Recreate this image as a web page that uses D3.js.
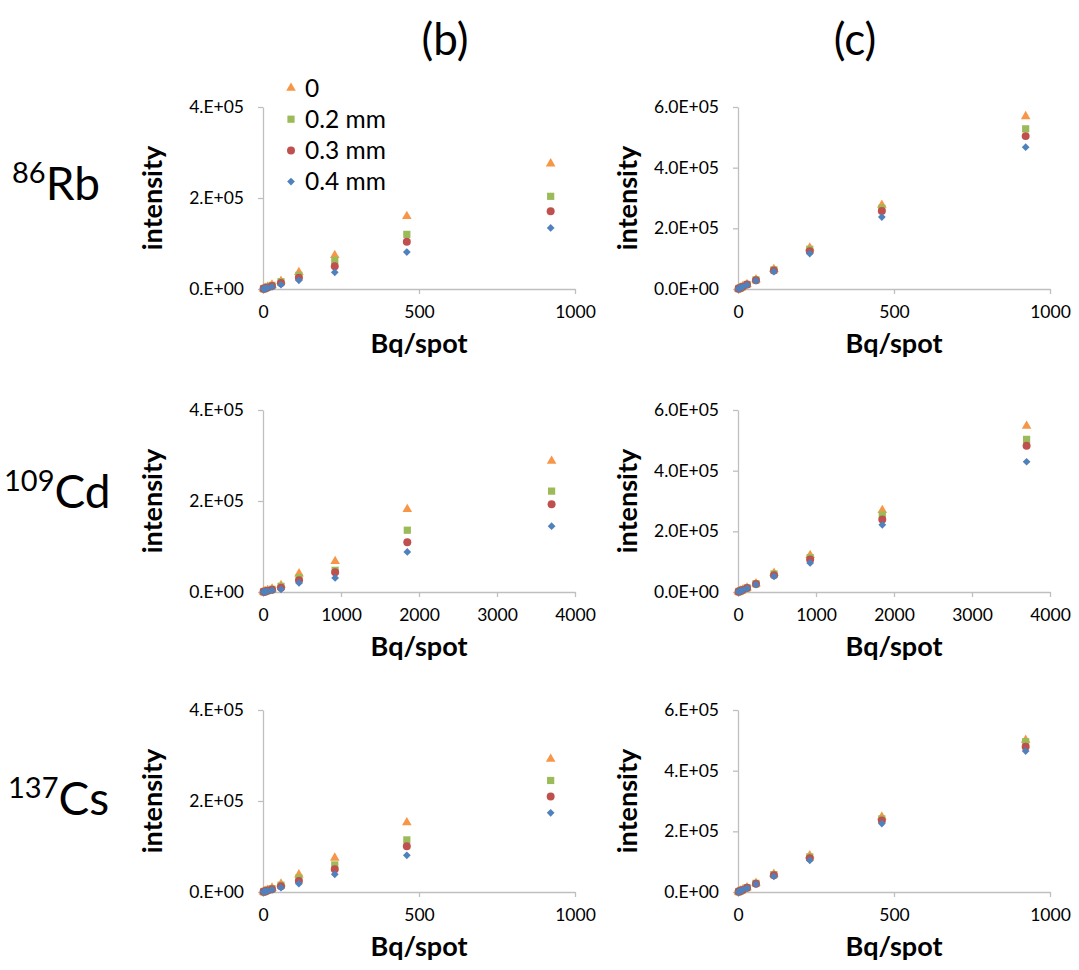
<!DOCTYPE html>
<html>
<head>
<meta charset="utf-8">
<script src="https://cdn.jsdelivr.net/npm/d3@7"></script>
<style>
  body { margin: 0; background: #fff; }
  svg { display: block; font-family: "Lato", sans-serif; }
</style>
</head>
<body>
<div id="chart"></div>
<script>
// series names (legend)
var seriesNames = ["0", "0.2 mm", "0.3 mm", "0.4 mm"];

// x values (Bq/spot)
var xRbCs = [1.8, 3.6, 7.2, 14.4, 28.8, 57.6, 115, 230, 461, 922];
var xCd = [7.2, 14.5, 29, 58, 116, 231, 462, 925, 1850, 3700];

// 86Rb (b)
var rbB0 = [600, 1200, 2300, 4500, 9000, 17600, 36600, 74000, 159700, 275500];
var rbB2 = [500, 1000, 2000, 4000, 8000, 16000, 30000, 63000, 120100, 203700];
var rbB3 = [400, 800, 1600, 3200, 6500, 13000, 24900, 49800, 104000, 170700];
var rbB4 = [300, 600, 1200, 2400, 4800, 9500, 19000, 36600, 81300, 134100];
// 86Rb (c)
var rbC0 = [1000, 2000, 3900, 7800, 15500, 31000, 65000, 135700, 277000, 569000];
var rbC2 = [950, 1900, 3800, 7500, 15000, 30000, 63000, 131000, 266000, 528000];
var rbC3 = [900, 1800, 3600, 7300, 14500, 29000, 60700, 124600, 257000, 504000];
var rbC4 = [850, 1700, 3400, 6900, 13800, 27500, 57400, 117000, 237000, 467600];

// 109Cd (b)
var cdB0 = [500, 900, 1800, 3500, 7000, 14700, 40400, 67500, 182000, 287700];
var cdB2 = [400, 800, 1500, 3000, 6000, 12500, 31600, 47700, 135800, 221700];
var cdB3 = [300, 600, 1200, 2500, 5000, 9500, 25700, 43300, 109400, 193000];
var cdB4 = [200, 400, 900, 1800, 3500, 5900, 19800, 30800, 88100, 144600];
// 109Cd (c)
var cdC0 = [1000, 1900, 3700, 7000, 14000, 28000, 62800, 121100, 269700, 547200];
var cdC2 = [950, 1850, 3500, 6800, 13500, 27000, 59500, 113400, 254300, 503200];
var cdC3 = [900, 1750, 3400, 6500, 13000, 26000, 55000, 106800, 238900, 482200];
var cdC4 = [850, 1650, 3200, 6100, 12000, 24500, 51700, 95800, 221300, 429400];

// 137Cs (b)
var csB0 = [600, 1100, 2300, 4500, 9000, 18000, 38200, 74900, 152700, 292100];
var csB2 = [500, 950, 1900, 3800, 7500, 15000, 30800, 59500, 114500, 245100];
var csB3 = [400, 800, 1600, 3100, 6200, 12500, 24200, 49900, 100600, 209900];
var csB4 = [300, 600, 1200, 2400, 4800, 9500, 18400, 38900, 80700, 174000];
// 137Cs (c)
var csC0 = [900, 1850, 3700, 7400, 14800, 29500, 59500, 120000, 247700, 501000];
var csC2 = [880, 1800, 3600, 7200, 14300, 28500, 57300, 115600, 241100, 495500];
var csC3 = [850, 1750, 3500, 7000, 13800, 27500, 55000, 111200, 235600, 479000];
var csC4 = [800, 1650, 3300, 6600, 13000, 26000, 51700, 104600, 225700, 464600];

// ticks
var xTicksShort = [0, 500, 1000];
var xTicksLong = [0, 1000, 2000, 3000, 4000];
var yTicksB = [0, 200000, 400000];
var yTicksC = [0, 200000, 400000, 600000];
var yLabelsB = ["0.E+00", "2.E+05", "4.E+05"];
var yLabelsC = ["0.0E+00", "2.0E+05", "4.0E+05", "6.0E+05"];
var yLabelsC3 = ["0.E+00", "2.E+05", "4.E+05", "6.E+05"];

var colors = ["#F79646", "#9BBB59", "#C0504D", "#4F81BD"];
var shapes = [
  d3.symbol().type(d3.symbolTriangle).size(40),
  d3.symbol().type(d3.symbolSquare).size(52),
  d3.symbol().type(d3.symbolCircle).size(50),
  d3.symbol().type(d3.symbolSquare).size(30)
];
var rotations = [0, 0, 0, 45];

var W = 1079, H = 970;
var colLeft = [263, 738];
var colWidth = 312;
var rowTop = [107, 410, 710];
var rowH = 182;

var panels = [
  { row: 0, col: 0, x: xRbCs, xMax: 1000, xTicks: xTicksShort, yMax: 400000, yTicks: yTicksB, yLabels: yLabelsB, ys: [rbB0, rbB2, rbB3, rbB4], legend: true },
  { row: 0, col: 1, x: xRbCs, xMax: 1000, xTicks: xTicksShort, yMax: 600000, yTicks: yTicksC, yLabels: yLabelsC, ys: [rbC0, rbC2, rbC3, rbC4] },
  { row: 1, col: 0, x: xCd, xMax: 4000, xTicks: xTicksLong, yMax: 400000, yTicks: yTicksB, yLabels: yLabelsB, ys: [cdB0, cdB2, cdB3, cdB4] },
  { row: 1, col: 1, x: xCd, xMax: 4000, xTicks: xTicksLong, yMax: 600000, yTicks: yTicksC, yLabels: yLabelsC, ys: [cdC0, cdC2, cdC3, cdC4] },
  { row: 2, col: 0, x: xRbCs, xMax: 1000, xTicks: xTicksShort, yMax: 400000, yTicks: yTicksB, yLabels: yLabelsB, ys: [csB0, csB2, csB3, csB4] },
  { row: 2, col: 1, x: xRbCs, xMax: 1000, xTicks: xTicksShort, yMax: 600000, yTicks: yTicksC, yLabels: yLabelsC3, ys: [csC0, csC2, csC3, csC4] }
];

var svg = d3.select("#chart").append("svg")
  .attr("width", W)
  .attr("height", H);

// column headers
svg.append("text").attr("x", 445).attr("y", 55).attr("text-anchor", "middle")
  .style("font-size", "44px").text("(b)");
svg.append("text").attr("x", 855).attr("y", 55).attr("text-anchor", "middle")
  .style("font-size", "44px").text("(c)");

// isotope labels
var isotopes = [
  { mass: "86", sym: "Rb", x: 12, base: 200 },
  { mass: "109", sym: "Cd", x: 4, base: 508 },
  { mass: "137", sym: "Cs", x: 8, base: 815 }
];
isotopes.forEach(function (d) {
  var t = svg.append("text").attr("x", d.x).attr("y", d.base);
  t.append("tspan").attr("dy", -17).style("font-size", "29px").text(d.mass);
  t.append("tspan").attr("dy", 17).style("font-size", "46px").text(d.sym);
});

panels.forEach(function (p) {
  var left = colLeft[p.col];
  var top = rowTop[p.row];
  var g = svg.append("g").attr("transform", "translate(" + left + "," + top + ")");

  var x = d3.scaleLinear().domain([0, p.xMax]).range([0, colWidth]);
  var y = d3.scaleLinear().domain([0, p.yMax]).range([rowH, 0]);

  var xAxis = d3.axisBottom(x).tickValues(p.xTicks).tickSize(5).tickPadding(12).tickSizeOuter(0)
    .tickFormat(d3.format("d"));
  var yAxis = d3.axisLeft(y).tickValues(p.yTicks).tickSize(5).tickPadding(14).tickSizeOuter(0)
    .tickFormat(function (d, i) { return p.yLabels[i]; });

  var gx = g.append("g").attr("transform", "translate(0," + rowH + ")").call(xAxis);
  var gy = g.append("g").call(yAxis);
  [gx, gy].forEach(function (a) {
    a.select(".domain").attr("stroke", "#bfbfbf").attr("stroke-width", 1.3);
    a.selectAll(".tick line").attr("stroke", "#bfbfbf").attr("stroke-width", 1.3);
    a.selectAll(".tick text").attr("fill", "#000").style("font-size", "17.5px").style("font-family", "Lato, sans-serif");
  });

  // axis titles
  g.append("text")
    .attr("x", colWidth / 2).attr("y", rowH + 64)
    .attr("text-anchor", "middle")
    .style("font-size", "27px").style("font-weight", "bold")
    .text("Bq/spot");
  g.append("text")
    .attr("transform", "translate(-101," + rowH / 2 + ") rotate(-90)")
    .attr("text-anchor", "middle")
    .style("font-size", "27px").style("font-weight", "bold")
    .text("intensity");

  // points
  p.ys.forEach(function (vals, si) {
    g.append("g").selectAll("path")
      .data(vals)
      .enter()
      .append("path")
      .attr("d", shapes[si])
      .attr("fill", colors[si])
      .attr("transform", function (d, i) {
        return "translate(" + x(p.x[i]) + "," + y(d) + ") rotate(" + rotations[si] + ")";
      });
  });

  if (p.legend) {
    var lg = svg.append("g").attr("transform", "translate(291,88)");
    seriesNames.forEach(function (name, si) {
      var row = lg.append("g").attr("transform", "translate(0," + si * 31.2 + ")");
      row.append("path").attr("d", shapes[si]).attr("fill", colors[si])
        .attr("transform", "rotate(" + rotations[si] + ")");
      row.append("text").attr("x", 14).attr("dy", "0.36em")
        .style("font-size", "24.5px").text(name);
    });
  }
});
</script>
</body>
</html>
